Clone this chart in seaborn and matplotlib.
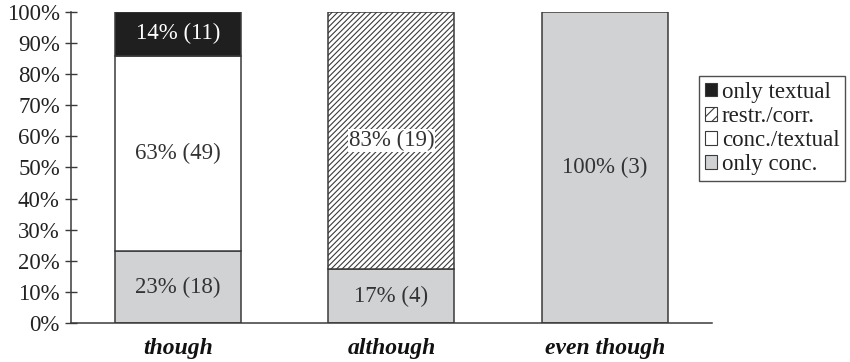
import matplotlib
matplotlib.use("Agg")
import matplotlib.pyplot as plt
from matplotlib.patches import Patch
import numpy as np
import pandas as pd
import seaborn as sns

# counts per connective
categories = ["though", "although", "even though"]
only_conc = [18, 4, 3]
conc_textual = [49, 0, 0]
restr_corr = [0, 19, 0]
only_textual = [11, 0, 0]

series_names = ["only conc.", "conc./textual", "restr./corr.", "only textual"]

sns.set_theme(style="white")
plt.rcParams["font.family"] = ["Liberation Serif", "DejaVu Serif"]
plt.rcParams["hatch.linewidth"] = 0.8

df = pd.DataFrame({
    "cat": categories,
    "only conc.": only_conc,
    "conc./textual": conc_textual,
    "restr./corr.": restr_corr,
    "only textual": only_textual,
})
totals = df[series_names].sum(axis=1)

styles = {
    "only conc.": dict(color="#d1d2d4", hatch=None, text="#333333"),
    "conc./textual": dict(color="white", hatch=None, text="#333333"),
    "restr./corr.": dict(color="white", hatch="//////", text="#333333"),
    "only textual": dict(color="#1f1f1f", hatch=None, text="white"),
}
edge = "#3a3a3a"
fs = 16.5

fig = plt.figure(figsize=(8.5, 3.62), dpi=100)
ax = fig.add_axes([0.0835, 0.1077, 0.7541, 0.8592])

bottom = np.zeros(len(categories))
for name in series_names:
    share = df[name].values / totals.values * 100
    keep = df[name].values > 0
    st = styles[name]
    sns.barplot(
        x=df["cat"][keep], y=share[keep], order=categories, ax=ax,
        bottom=bottom[keep], color=st["color"], saturation=1, width=0.59,
        edgecolor=edge, linewidth=1.1, hatch=st["hatch"],
    )
    for i in np.where(keep)[0]:
        pct = round(share[i])
        label = f"{pct}% ({df[name].values[i]})"
        box = None
        if st["hatch"]:
            box = dict(facecolor="white", edgecolor="none", pad=0.5)
        ax.text(i, bottom[i] + share[i] / 2, label, ha="center", va="center",
                fontsize=fs, color=st["text"], bbox=box)
    bottom = bottom + share

ax.set_xlim(-0.5, 2.5)
ax.set_ylim(0, 100)
ax.set_yticks(range(0, 101, 10))
ax.set_yticklabels([f"{v}%" for v in range(0, 101, 10)], fontsize=fs, color="#222222")
ax.set_xticks(range(len(categories)))
ax.set_xticklabels(categories, fontsize=fs + 0.5, fontweight="bold", fontstyle="italic",
                   color="#111111")
ax.set_xticks([0.5, 1.5, 2.5], minor=True)
ax.tick_params(axis="x", which="major", length=0, pad=11)
ax.tick_params(axis="x", which="minor", direction="inout", length=12, width=1, color=edge)
ax.tick_params(axis="y", direction="inout", length=8, width=1, color=edge, pad=4, left=True)
ax.set_xlabel("")
ax.set_ylabel("")
for s in ["top", "right"]:
    ax.spines[s].set_visible(False)
for s in ["left", "bottom"]:
    ax.spines[s].set_color(edge)
    ax.spines[s].set_linewidth(1.1)

handles = []
for name in reversed(series_names):
    st = styles[name]
    handles.append(Patch(facecolor=st["color"], edgecolor=edge,
                         hatch="///" if st["hatch"] else None,
                         linewidth=0.8, label=name))
leg = fig.legend(handles=handles, loc="center", bbox_to_anchor=(0.9085, 0.645),
                 fontsize=fs, frameon=True, fancybox=False, edgecolor="#222222",
                 handlelength=0.55, handleheight=0.55, handletextpad=0.2,
                 borderpad=0.25, labelspacing=0.14, borderaxespad=0)
leg.get_frame().set_linewidth(1)
for t in leg.get_texts():
    t.set_color("#222222")

fig.savefig("out.png", dpi=100)
